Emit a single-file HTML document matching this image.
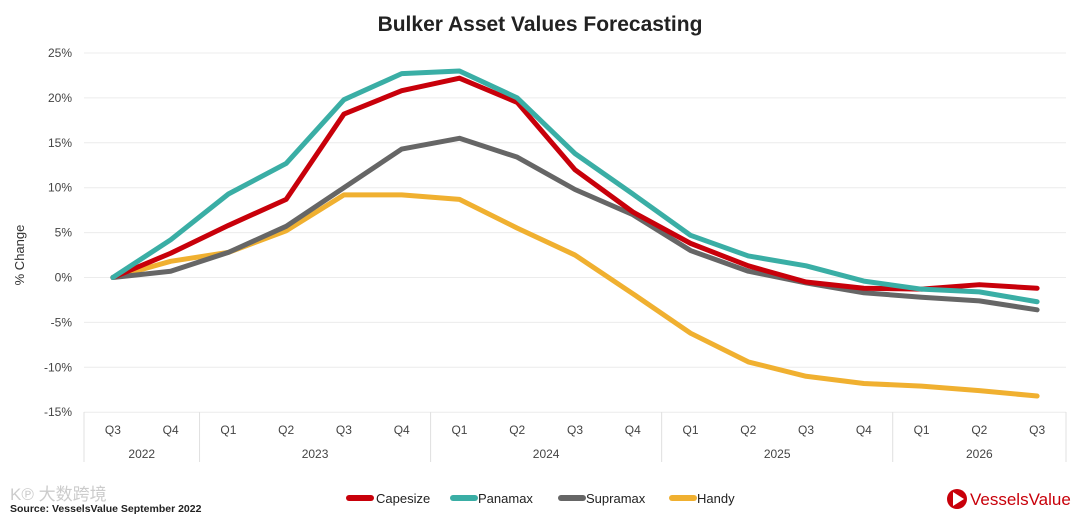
<!DOCTYPE html>
<html><head><meta charset="utf-8"><style>
body{margin:0;background:#fff;width:1080px;height:518px;overflow:hidden;font-family:"Liberation Sans",sans-serif}
</style></head><body>
<svg id="chart" width="1080" height="518" xmlns="http://www.w3.org/2000/svg">
<text x="540" y="31" text-anchor="middle" font-size="21" font-weight="bold" fill="#222">Bulker Asset Values Forecasting</text>
<text transform="translate(24,255) rotate(-90)" text-anchor="middle" font-size="13" fill="#333">% Change</text>
<g id="grid"></g><g id="xaxis"></g><g id="lines"></g>
<g font-size="13" fill="#222">
<rect x="346" y="495" width="28" height="6" rx="3" fill="#c8000a"/><text x="376" y="503">Capesize</text>
<rect x="450" y="495" width="28" height="6" rx="3" fill="#3aaea5"/><text x="478" y="503">Panamax</text>
<rect x="558" y="495" width="28" height="6" rx="3" fill="#666"/><text x="586" y="503">Supramax</text>
<rect x="669" y="495" width="28" height="6" rx="3" fill="#f0b030"/><text x="697" y="503">Handy</text>
</g>
<text x="10" y="500" font-size="17" fill="#ccc" font-family="'Liberation Sans','Noto Sans CJK SC',sans-serif">K℗ 大数跨境</text>
<text x="10" y="512" font-size="10.5" font-weight="bold" fill="#222">Source: VesselsValue September 2022</text>
<g>
<circle cx="957" cy="499" r="10" fill="#c8000a"/><path d="M953 492 L964 499 L953 506 Z" fill="#fff"/>
<text x="970" y="505" font-size="17" fill="#c8000a">VesselsValue</text></g>
</svg>
<script>
const categories=["Q3","Q4","Q1","Q2","Q3","Q4","Q1","Q2","Q3","Q4","Q1","Q2","Q3","Q4","Q1","Q2","Q3"];
const years=["2022","2023","2024","2025","2026"];
const yearSpans=[2,4,4,4,3];
const yTicks=[25,20,15,10,5,0,-5,-10,-15];
const capesize=[0,2.7,5.8,8.7,18.2,20.8,22.2,19.5,12,7.3,3.8,1.3,-0.5,-1.2,-1.3,-0.8,-1.2];
const panamax=[0,4.2,9.3,12.7,19.8,22.7,23.0,20.0,13.8,9.3,4.7,2.4,1.3,-0.4,-1.3,-1.6,-2.7];
const supramax=[0,0.7,2.8,5.7,10,14.3,15.5,13.4,9.8,7,3,0.7,-0.6,-1.7,-2.2,-2.6,-3.6];
const handy=[0,1.8,2.8,5.2,9.2,9.2,8.7,5.5,2.5,-1.8,-6.2,-9.4,-11,-11.8,-12.1,-12.6,-13.2];
const NS="http://www.w3.org/2000/svg";
const x0=84,x1=1066,step=(x1-x0)/categories.length;
const X=i=>x0+step*(i+0.5);
const Y=v=>277.5-(v)*8.98;
function mk(t,a,p){const e=document.createElementNS(NS,t);for(const k in a)e.setAttribute(k,a[k]);p.appendChild(e);return e;}
const grid=document.getElementById('grid');
yTicks.forEach(t=>{
 const l=mk('line',{x1:x0,x2:x1,y1:Y(t),y2:Y(t),stroke:'#ececec','stroke-width':1},grid);
 
 
 const tx=mk('text',{x:72,y:Y(t)+4,'text-anchor':'end','font-size':12,fill:'#444'},grid);
 tx.textContent=t+'%';
 
 
});
const xa=document.getElementById('xaxis');
categories.forEach((c,i)=>{
 const t=mk('text',{x:X(i),y:434,'text-anchor':'middle','font-size':12,fill:'#444'},xa);
 t.textContent=c;
 
 
});
let idx=0;
mk('line',{x1:x0,x2:x0,y1:412,y2:462,stroke:'#e0e0e0'},xa);
years.forEach((y,j)=>{
 const s=idx,e=idx+yearSpans[j];idx=e;
 const xr=x0+step*e;
 const d=mk('line',{x1:xr,x2:xr,y1:412,y2:462,stroke:'#e0e0e0'},xa);
 
 
 const t=mk('text',{x:(x0+step*s+xr)/2,y:458,'text-anchor':'middle','font-size':12,fill:'#444'},xa);
 t.textContent=y;
 
 
});
const lines=document.getElementById('lines');
[[handy,'#f0b030','handy'],[supramax,'#666','supramax'],[capesize,'#c8000a','capesize'],[panamax,'#3aaea5','panamax']].forEach(([d,c,n])=>{
 const p=mk('polyline',{points:d.map((v,i)=>X(i)+','+Y(v)).join(' '),fill:'none',stroke:c,'stroke-width':5,'stroke-linejoin':'round','stroke-linecap':'round'},lines);
 
 
});
</script>
</body></html>
